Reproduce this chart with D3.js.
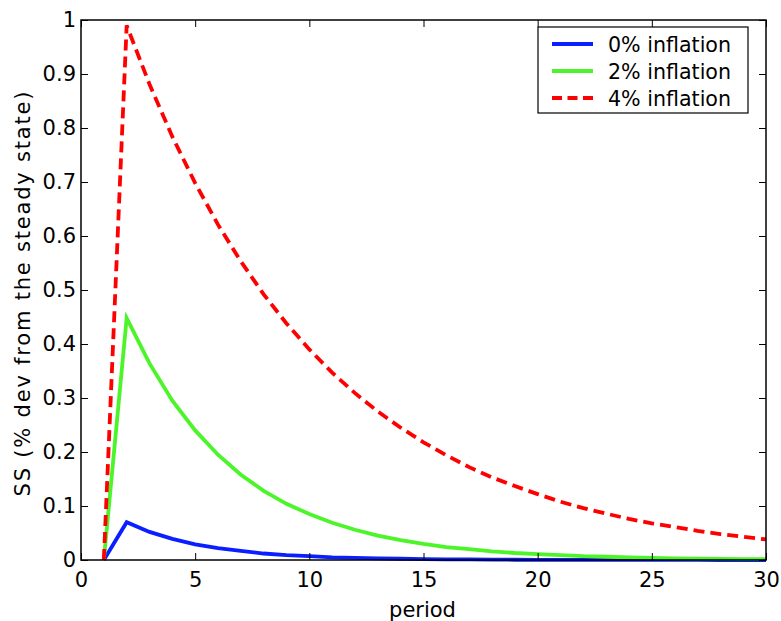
<!DOCTYPE html>
<html>
<head>
<meta charset="utf-8">
<script src="https://cdn.jsdelivr.net/npm/d3@7"></script>
<style>
  body { margin: 0; background: #fff; }
  text { font-family: "DejaVu Sans", sans-serif; fill: #000; }
</style>
</head>
<body>
<svg id="chart"></svg>
<script>
// periods 1..30
const periods = d3.range(1, 31);
const infl0 = [0, 0.070, 0.052, 0.039, 0.029, 0.022, 0.017, 0.012, 0.009, 0.007,
  0.005, 0.004, 0.003, 0.0023, 0.0017, 0.0013, 0.001, 0.0007, 0.0005, 0.0004,
  0.0003, 0.0002, 0.0002, 0.0001, 0.0001, 0.0001, 0.0001, 0, 0, 0];
const infl2 = [0, 0.448, 0.364, 0.295, 0.240, 0.195, 0.158, 0.128, 0.104, 0.085,
  0.069, 0.056, 0.045, 0.037, 0.030, 0.024, 0.020, 0.016, 0.013, 0.011,
  0.009, 0.007, 0.006, 0.005, 0.004, 0.003, 0.0027, 0.002, 0.0018, 0.0015];
const infl4 = [0, 0.990, 0.881, 0.784, 0.698, 0.621, 0.553, 0.492, 0.438, 0.390,
  0.347, 0.309, 0.275, 0.245, 0.218, 0.194, 0.172, 0.153, 0.137, 0.122,
  0.108, 0.096, 0.086, 0.076, 0.068, 0.061, 0.054, 0.048, 0.043, 0.038];
const seriesNames = ['0% inflation', '2% inflation', '4% inflation'];
const seriesColors = ['#0a1fff', '#4cf52a', '#ff0000'];
const xTicks = [0, 5, 10, 15, 20, 25, 30];
const yTicks = [0, 0.1, 0.2, 0.3, 0.4, 0.5, 0.6, 0.7, 0.8, 0.9, 1];

const width = 781, height = 621;
const margin = { top: 20, right: 15, bottom: 61, left: 81 };
const innerW = width - margin.left - margin.right;
const innerH = height - margin.top - margin.bottom;

const svg = d3.select('#chart').attr('width', width).attr('height', height);
const chart = svg.append('g').attr('transform', `translate(${margin.left},${margin.top})`);

const x = d3.scaleLinear().domain([0, 30]).range([0, innerW]);
const y = d3.scaleLinear().domain([0, 1]).range([innerH, 0]);

// axes, matlab style: ticks inside, box all round
const tickLen = 7;
const xAxisB = d3.axisBottom(x).tickValues(xTicks).tickSize(-tickLen).tickPadding(12).tickFormat(d3.format('d'));
const xAxisT = d3.axisTop(x).tickValues(xTicks).tickSize(-tickLen).tickFormat('');
const yAxisL = d3.axisLeft(y).tickValues(yTicks).tickSize(-tickLen).tickPadding(5)
  .tickFormat((d) => (d === 0 || d === 1 ? d3.format('d')(d) : d3.format('.1f')(d)));
const yAxisR = d3.axisRight(y).tickValues(yTicks).tickSize(-tickLen).tickFormat('');

const line = d3.line().x((d, i) => x(periods[i])).y((d) => y(d));
const series = [infl0, infl2, infl4];

series.forEach((s, k) => {
  chart.append('path')
    .datum(s)
    .attr('d', line)
    .attr('fill', 'none')
    .attr('stroke', seriesColors[k])
    .attr('stroke-width', 3.8)
    .attr('stroke-dasharray', k === 2 ? '11,6' : null);
});

const styleAxis = (g) => {
  g.select('.domain').remove();
  g.selectAll('.tick line').attr('stroke', '#000').attr('stroke-width', 1);
  g.selectAll('text').attr('font-size', 21);
};

chart.append('g').attr('transform', `translate(0,${innerH})`).call(xAxisB).call(styleAxis);
chart.append('g').call(xAxisT).call(styleAxis);
chart.append('g').call(yAxisL).call(styleAxis);
chart.append('g').attr('transform', `translate(${innerW},0)`).call(yAxisR).call(styleAxis);

chart.append('rect')
  .attr('width', innerW).attr('height', innerH)
  .attr('fill', 'none').attr('stroke', '#000').attr('stroke-width', 1.5);

// axis titles
svg.append('text')
  .attr('x', margin.left + innerW / 2 - 1)
  .attr('y', 617)
  .attr('text-anchor', 'middle')
  .attr('font-size', 21)
  .text('period');

svg.append('text')
  .attr('transform', `translate(30,${margin.top + innerH / 2 + 4}) rotate(-90)`)
  .attr('text-anchor', 'middle')
  .attr('font-size', 21)
  .attr('textLength', 405)
  .attr('lengthAdjust', 'spacing')
  .text('SS (% dev from the steady state)');

// legend
const legend = svg.append('g').attr('transform', 'translate(538,27)');
legend.append('rect')
  .attr('width', 210).attr('height', 86)
  .attr('fill', '#fff').attr('stroke', '#000').attr('stroke-width', 1.2);

seriesNames.forEach((name, k) => {
  const yy = 17 + k * 27;
  legend.append('line')
    .attr('x1', 14).attr('x2', 55).attr('y1', yy).attr('y2', yy)
    .attr('stroke', seriesColors[k]).attr('stroke-width', 3.8)
    .attr('stroke-dasharray', k === 2 ? '10,5.5' : null);
  legend.append('text')
    .attr('x', 70).attr('y', yy + 8)
    .attr('font-size', 21)
    .attr('textLength', 123)
    .attr('lengthAdjust', 'spacingAndGlyphs')
    .text(name);
});
</script>
</body>
</html>
